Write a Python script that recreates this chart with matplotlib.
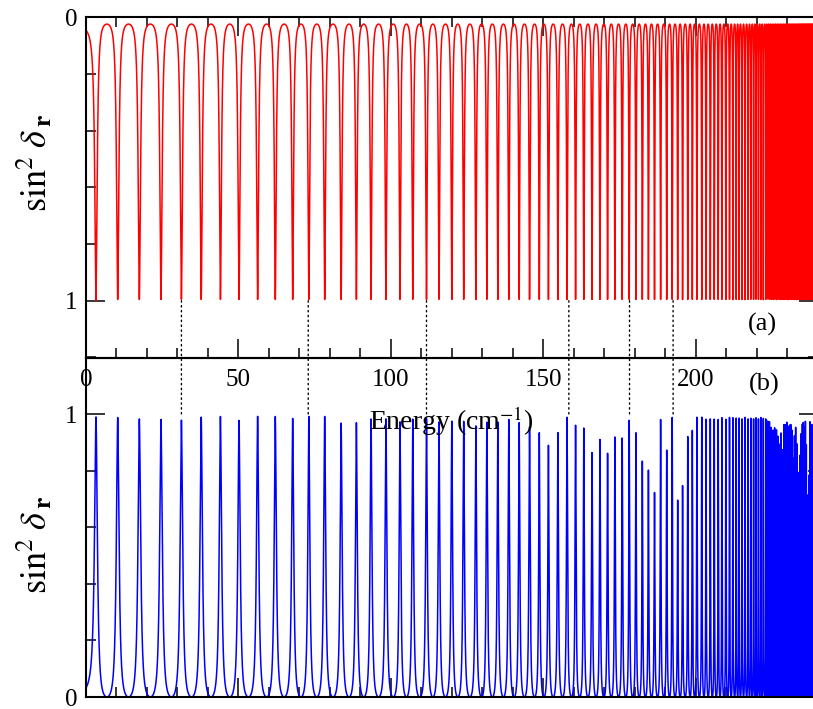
import numpy as np
import matplotlib
matplotlib.use("Agg")
import matplotlib.pyplot as plt
from matplotlib.patches import ConnectionPatch
from matplotlib.ticker import MultipleLocator, FixedLocator, FixedFormatter

# ---------------- data ----------------
# resonance energies (cm^-1), common to both panels
resonance_energy = [
    3.3, 10.4, 17.5, 24.6, 31.3, 37.8, 44.1, 50.2, 56.3, 62.1,
    67.8, 73.1, 78.3, 83.7, 88.7, 93.5, 98.4, 103.0, 107.2, 111.7,
    115.8, 120.0, 123.9, 127.9, 131.5, 135.1, 138.7, 142.1, 145.5, 148.7,
    151.7, 154.8, 157.8, 160.6, 163.3, 166.0, 168.6, 171.1, 173.5, 175.9,
    178.2, 180.4, 182.5, 184.5, 186.5, 188.5, 190.5, 192.3, 194.1, 195.7,
    197.4, 198.9, 200.4, 202.0, 203.4, 204.8, 206.1, 207.4, 208.6, 209.9,
    211.1, 212.2, 213.3, 214.2, 215.2, 216.2, 217.2, 218.1, 219.0, 219.8,
    220.6, 221.4, 222.2, 223.0, 223.6, 224.2, 224.8, 225.4, 225.9, 226.5,
    227.0, 227.5, 228.0, 228.5, 229.0, 229.5, 229.9, 230.4, 230.8, 231.2,
    231.6, 232.0, 232.4, 232.8, 233.2, 233.6, 233.9, 234.3, 234.6, 235.0,
    235.3, 235.6, 236.0, 236.3, 236.6, 236.9, 237.2, 237.5, 237.8, 238.1,
    238.4, 238.7, 239.0, 239.3, 239.6, 239.9,
]
# peak heights of panel (b)
peak_height_b = [
    0.990, 0.995, 0.990, 0.988, 0.986, 0.996, 0.999, 0.985, 0.999, 0.999,
    0.992, 0.999, 0.999, 0.975, 0.977, 0.990, 0.990, 0.980, 0.990, 0.990,
    0.980, 0.982, 0.982, 0.965, 0.979, 0.979, 0.988, 0.977, 0.961, 0.941,
    0.896, 0.941, 0.996, 0.968, 0.958, 0.870, 0.917, 0.868, 0.926, 0.922,
    0.985, 0.941, 0.840, 0.808, 0.728, 0.988, 0.879, 0.996, 0.701, 0.752,
    0.927, 0.950, 0.996, 0.996, 0.990, 0.990, 0.990, 0.988, 0.995, 0.988,
    0.996, 0.993, 0.993, 0.993, 0.990, 0.995, 0.990, 0.993, 0.990, 0.995,
    0.990, 0.995, 0.990, 0.990, 0.985, 0.980, 0.960, 0.950, 0.960, 0.950,
    0.930, 0.900, 0.940, 0.880, 0.970, 0.970, 0.980, 0.960, 0.970, 0.970,
    0.950, 0.850, 0.930, 0.960, 0.900, 0.800, 0.780, 0.860, 0.940, 0.970,
    0.980, 0.960, 0.980, 0.900, 0.670, 0.720, 0.790, 0.980, 0.950, 0.970,
    0.960, 0.970, 0.960, 0.950, 0.970, 0.960,
]
# energies of the dotted connector lines
marker_energy = [31.3, 72.9, 111.7, 158.4, 178.3, 192.6]
x_tick_values = [0, 50, 100, 150, 200]
y_tick_values = [0, 1]
y_tick_labels = ["0", "1"]

# model parameters (resonance width relative to local spacing)
WIDTH_RATIO_A = 0.14
WIDTH_RATIO_B = 0.17
FLOOR_A = 0.025
E_MAX = 240.0

# ---------------- curves ----------------
Er = np.array(resonance_energy)
hb = np.array(peak_height_b)
spacing = np.gradient(Er)
E = np.linspace(0.0, E_MAX, 48001)
n = len(Er)
k_low = np.searchsorted(Er, E) - 1          # resonance just below E
k_up = k_low + 1                            # resonance just above E


def pair_phase(ratio):
    gam = ratio * spacing
    ph = np.zeros_like(E)
    lo_ok = k_low >= 0
    up_ok = k_up < n
    lo = np.clip(k_low, 0, n - 1)
    up = np.clip(k_up, 0, n - 1)
    ph += np.where(lo_ok, np.arctan2(gam[lo] / 2.0, Er[lo] - E), 0.0)
    ph += np.where(up_ok, np.arctan2(gam[up] / 2.0, Er[up] - E), 0.0)
    return ph


ya = FLOOR_A + (1 - FLOOR_A) * np.sin(pair_phase(WIDTH_RATIO_A)) ** 2
mid = 0.5 * (Er[1:] + Er[:-1])
near = np.searchsorted(mid, E)
yb = hb[near] * np.sin(pair_phase(WIDTH_RATIO_B)) ** 2

# ---------------- figure ----------------
plt.rcParams["font.family"] = ["Liberation Serif", "DejaVu Serif"]
plt.rcParams["mathtext.fontset"] = "stix"

W, H = 813, 709
fig = plt.figure(figsize=(W / 100, H / 100), dpi=100)
left = 86 / W
width = 731.6 / W
ax1 = fig.add_axes([left, 1 - 357.5 / H, width, 340.5 / H])
ax2 = fig.add_axes([left, 12 / H, width, 339.5 / H])
ax2.set_facecolor("none")
ax1.set_zorder(2)
ax1.set_facecolor("none")

ax1.plot(E, ya, color="#ff0000", lw=1.1)
ax2.plot(E, yb, color="#0000ff", lw=1.1)

ax1.set_xlim(0, E_MAX)
ax1.set_ylim(1.2, 0)
ax2.set_xlim(0, E_MAX)
ax2.set_ylim(0, 1.2)

for ax in (ax1, ax2):
    for sp in ax.spines.values():
        sp.set_linewidth(1.5)
    ax.xaxis.set_major_locator(FixedLocator(x_tick_values))
    ax.xaxis.set_minor_locator(MultipleLocator(10))
    ax.yaxis.set_major_locator(FixedLocator(y_tick_values))
    ax.yaxis.set_major_formatter(FixedFormatter(y_tick_labels))
    ax.yaxis.set_minor_locator(MultipleLocator(0.2))
    ax.tick_params(which="major", length=14, width=1.1, direction="in")
    ax.tick_params(which="minor", length=7, width=1.1, direction="in")
    ax.tick_params(axis="y", which="both", left=True, right=True, labelsize=18, pad=6)

ax1.tick_params(axis="x", which="both", top=True, bottom=True, labelsize=18, pad=8)
ax2.tick_params(axis="x", which="both", top=False, bottom=True, labelbottom=False)

ylab = r"$\mathrm{sin}^{2}\;\delta_{\;\mathbf{r}}$"
fig.text(36 / W, 1 - 163 / H, ylab, rotation=90, ha="center", va="center", fontsize=26)
fig.text(36 / W, 1 - 545 / H, ylab, rotation=90, ha="center", va="center", fontsize=26)

fig.text(451 / W, 1 - 421 / H, r"Energy (cm$^{-1}$)", ha="center", va="center", fontsize=20)

ax1.text(221.8, 1.085, "(a)", ha="center", va="center", fontsize=19)
ax2.text(222.4, 1.103, "(b)", ha="center", va="center", fontsize=19)

for e in marker_energy:
    con = ConnectionPatch(xyA=(e, 1.0), coordsA=ax1.transData,
                          xyB=(e, 1.0), coordsB=ax2.transData,
                          color="black", lw=1.0, linestyle=(0, (1, 2.5)))
    con.set_zorder(3)
    fig.add_artist(con)

fig.savefig("out.png", dpi=100)
